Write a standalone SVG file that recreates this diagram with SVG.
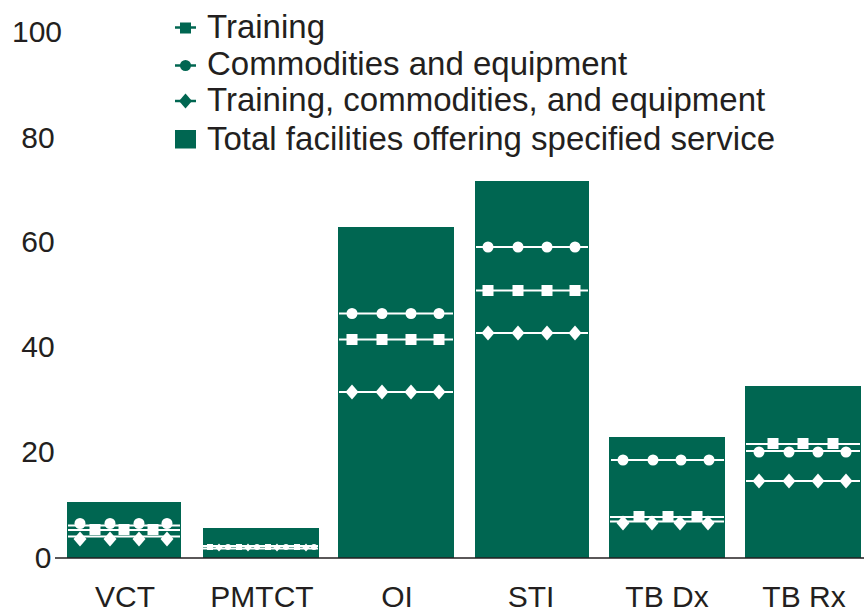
<svg xmlns="http://www.w3.org/2000/svg" xmlns:xlink="http://www.w3.org/1999/xlink" width="864" height="612" viewBox="0 0 864 612">
<style>
.bar{fill:#006651}
.wl{stroke:#fff;stroke-width:2}
.gl{stroke:#006651;stroke-width:2.5}
.t{font-family:"Liberation Sans",Arial,sans-serif;fill:#231f20}
.ax{font-size:30px;text-anchor:middle}
.lg{font-size:33px}
</style>
<defs>
<circle id="c" r="5.5" fill="#fff"/>
<rect id="s" x="-5.5" y="-5.5" width="11" height="11" fill="#fff"/>
<path id="d" d="M0,-7.5 L6.5,0 L0,7.5 L-6.5,0Z" fill="#fff"/>
<circle id="cs" r="3" fill="#fff"/>
<rect id="ss" x="-3" y="-3" width="6" height="6" fill="#fff"/>
<path id="ds" d="M0,-4 L3.5,0 L0,4 L-3.5,0Z" fill="#fff"/>
</defs>
<rect width="864" height="612" fill="#fff"/>

<g id="yaxis" class="t ax">
<text x="37" y="42">100</text>
<text x="38" y="148">80</text>
<text x="38" y="252">60</text>
<text x="38" y="357">40</text>
<text x="38" y="462">20</text>
<text x="43" y="568">0</text>
</g>

<g id="legend">
<line class="gl" x1="175" y1="27.5" x2="196" y2="27.5"/>
<rect x="180" y="22.5" width="11" height="11" fill="#006651"/>
<line class="gl" x1="175" y1="65.5" x2="196" y2="65.5"/>
<circle cx="185.5" cy="65.5" r="5.5" fill="#006651"/>
<line class="gl" x1="175" y1="101" x2="196" y2="101"/>
<path d="M185.5,93.5 L192,101 L185.5,108.5 L179,101Z" fill="#006651"/>
<rect x="175" y="130" width="21" height="18.5" fill="#006651"/>
<g class="t lg">
<text x="207" y="38">Training</text>
<text x="207" y="75">Commodities and equipment</text>
<text x="207" y="111">Training, commodities, and equipment</text>
<text x="207" y="150">Total facilities offering specified service</text>
</g>
</g>

<g id="bar-vct">
<rect class="bar" x="67" y="502" width="114" height="56"/>
<line class="wl" x1="68" y1="525.5" x2="180" y2="525.5"/>
<line class="wl" x1="68" y1="530" x2="180" y2="530"/>
<line class="wl" x1="68" y1="536.5" x2="180" y2="536.5"/>
<use xlink:href="#c" x="80" y="523.5"/><use xlink:href="#c" x="110" y="523.5"/><use xlink:href="#c" x="139" y="523.5"/><use xlink:href="#c" x="167" y="523.5"/>
<use xlink:href="#s" x="95" y="529.5"/><use xlink:href="#s" x="124" y="529.5"/><use xlink:href="#s" x="153" y="529.5"/>
<use xlink:href="#d" x="80" y="539"/><use xlink:href="#d" x="110" y="539"/><use xlink:href="#d" x="139" y="539"/><use xlink:href="#d" x="167" y="539"/>
<text class="t ax" x="125" y="607">VCT</text>
</g>

<g id="bar-pmtct">
<rect class="bar" x="203" y="528" width="116" height="30"/>
<line class="wl" x1="203" y1="546" x2="318" y2="546" stroke-width="1.5"/>
<line class="wl" x1="203" y1="548.5" x2="318" y2="548.5" stroke-width="1.5"/>
<use xlink:href="#ss" x="210" y="547"/><use xlink:href="#ds" x="219" y="547.5"/><use xlink:href="#cs" x="228" y="547"/>
<use xlink:href="#ss" x="239" y="547"/><use xlink:href="#ds" x="248" y="547.5"/><use xlink:href="#cs" x="257" y="547"/>
<use xlink:href="#ss" x="268" y="547"/><use xlink:href="#ds" x="277" y="547.5"/><use xlink:href="#cs" x="286" y="547"/>
<use xlink:href="#ss" x="297" y="547"/><use xlink:href="#ds" x="306" y="547.5"/><use xlink:href="#cs" x="314" y="547"/>
<text class="t ax" x="262" y="607">PMTCT</text>
</g>

<g id="bar-oi">
<rect class="bar" x="338" y="227" width="116" height="331"/>
<line class="wl" x1="339" y1="313.5" x2="453" y2="313.5"/>
<line class="wl" x1="339" y1="339.5" x2="453" y2="339.5"/>
<line class="wl" x1="339" y1="392" x2="453" y2="392"/>
<use xlink:href="#c" x="352" y="313.5"/><use xlink:href="#c" x="382" y="313.5"/><use xlink:href="#c" x="411" y="313.5"/><use xlink:href="#c" x="439" y="313.5"/>
<use xlink:href="#s" x="352" y="339.5"/><use xlink:href="#s" x="382" y="339.5"/><use xlink:href="#s" x="411" y="339.5"/><use xlink:href="#s" x="439" y="339.5"/>
<use xlink:href="#d" x="352" y="392"/><use xlink:href="#d" x="382" y="392"/><use xlink:href="#d" x="411" y="392"/><use xlink:href="#d" x="439" y="392"/>
<text class="t ax" x="397" y="607">OI</text>
</g>

<g id="bar-sti">
<rect class="bar" x="475" y="181" width="114" height="377"/>
<line class="wl" x1="476" y1="247" x2="588" y2="247"/>
<line class="wl" x1="476" y1="290.5" x2="588" y2="290.5"/>
<line class="wl" x1="476" y1="333" x2="588" y2="333"/>
<use xlink:href="#c" x="488" y="247"/><use xlink:href="#c" x="518" y="247"/><use xlink:href="#c" x="547" y="247"/><use xlink:href="#c" x="575" y="247"/>
<use xlink:href="#s" x="488" y="290.5"/><use xlink:href="#s" x="518" y="290.5"/><use xlink:href="#s" x="547" y="290.5"/><use xlink:href="#s" x="575" y="290.5"/>
<use xlink:href="#d" x="488" y="333"/><use xlink:href="#d" x="518" y="333"/><use xlink:href="#d" x="547" y="333"/><use xlink:href="#d" x="575" y="333"/>
<text class="t ax" x="531" y="607">STI</text>
</g>

<g id="bar-tbdx">
<rect class="bar" x="609" y="437" width="116" height="121"/>
<line class="wl" x1="611" y1="460" x2="724" y2="460"/>
<line class="wl" x1="610" y1="517" x2="724" y2="517"/>
<line class="wl" x1="610" y1="521.5" x2="724" y2="521.5"/>
<use xlink:href="#c" x="623" y="460"/><use xlink:href="#c" x="653" y="460"/><use xlink:href="#c" x="681" y="460"/><use xlink:href="#c" x="709" y="460"/>
<use xlink:href="#s" x="639" y="516.5"/><use xlink:href="#s" x="668" y="516.5"/><use xlink:href="#s" x="697" y="516.5"/>
<use xlink:href="#d" x="623" y="523"/><use xlink:href="#d" x="652" y="523"/><use xlink:href="#d" x="680" y="523"/><use xlink:href="#d" x="708" y="523"/>
<text class="t ax" x="667" y="607">TB Dx</text>
</g>

<g id="bar-tbrx">
<rect class="bar" x="745" y="386" width="116" height="172"/>
<line class="wl" x1="746" y1="444" x2="860" y2="444"/>
<line class="wl" x1="746" y1="451" x2="860" y2="451"/>
<line class="wl" x1="746" y1="481" x2="860" y2="481"/>
<use xlink:href="#s" x="773" y="443.5"/><use xlink:href="#s" x="803" y="443.5"/><use xlink:href="#s" x="833" y="443.5"/>
<use xlink:href="#c" x="759" y="452"/><use xlink:href="#c" x="789" y="452"/><use xlink:href="#c" x="818" y="452"/><use xlink:href="#c" x="846" y="452"/>
<use xlink:href="#d" x="759" y="481"/><use xlink:href="#d" x="789" y="481"/><use xlink:href="#d" x="818" y="481"/><use xlink:href="#d" x="846" y="481"/>
<text class="t ax" x="804" y="607">TB Rx</text>
</g>

<g id="connectors">
<line x1="55" y1="558" x2="864" y2="558" stroke="#231f20" stroke-width="1.5"/>
</g>
</svg>
